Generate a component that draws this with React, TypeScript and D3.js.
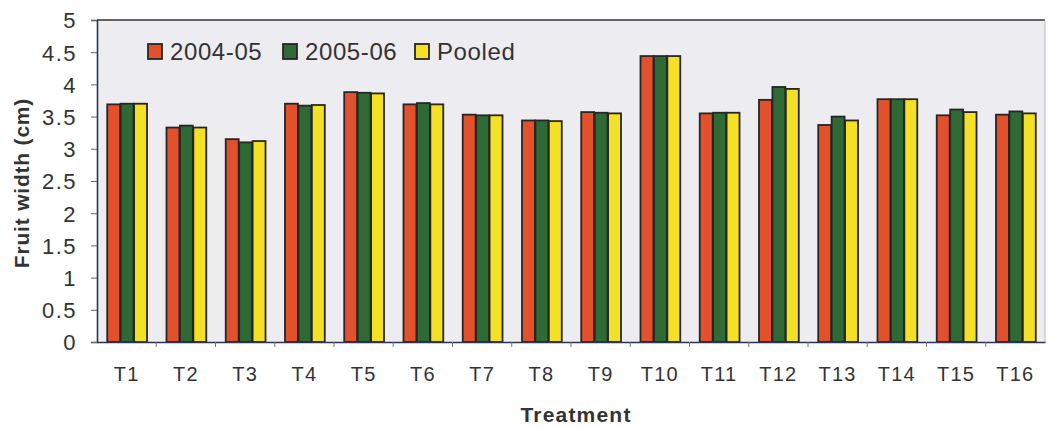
import React, { useEffect, useRef } from "react";
import * as d3 from "d3";

const categories = ["T1","T2","T3","T4","T5","T6","T7","T8","T9","T10","T11","T12","T13","T14","T15","T16"];
const seriesNames = ["2004-05", "2005-06", "Pooled"];
const s2004 = [3.69, 3.33, 3.15, 3.70, 3.88, 3.69, 3.53, 3.44, 3.57, 4.44, 3.55, 3.76, 3.37, 3.77, 3.52, 3.53];
const s2005 = [3.70, 3.36, 3.10, 3.67, 3.87, 3.71, 3.52, 3.44, 3.56, 4.44, 3.56, 3.96, 3.50, 3.77, 3.61, 3.58];
const sPooled = [3.70, 3.33, 3.12, 3.68, 3.86, 3.69, 3.52, 3.43, 3.55, 4.44, 3.56, 3.93, 3.44, 3.77, 3.57, 3.55];
const yTicks = [0, 0.5, 1, 1.5, 2, 2.5, 3, 3.5, 4, 4.5, 5];
const colors = ["#e2502c", "#2f6a34", "#f4e024"];

export default function App() {
  const ref = useRef<SVGSVGElement | null>(null);
  useEffect(() => {
    const svg = d3.select(ref.current);
    svg.selectAll("*").remove();
    const W = 1049, H = 428;
    const m = { left: 97, right: 4, top: 20, bottom: 86 };
    const x = d3.scaleBand().domain(categories).range([m.left, W - m.right]).paddingInner(0.32).paddingOuter(0.16);
    const x1 = d3.scaleBand().domain(seriesNames).range([0, x.bandwidth()]).padding(0);
    const y = d3.scaleLinear().domain([0, 5]).range([H - m.bottom, m.top]);
    const font = "'Liberation Sans', Arial, sans-serif";

    svg.append("rect").attr("x", 0).attr("y", 0).attr("width", W).attr("height", H).attr("fill", "#ffffff");
    svg.append("rect").attr("x", m.left).attr("y", y(5)).attr("width", W - m.right - m.left).attr("height", y(0) - y(5))
      .attr("fill", "#edecf1");

    const data = [s2004, s2005, sPooled];
    categories.forEach((c, i) => {
      const g = svg.append("g").attr("transform", `translate(${x(c)},0)`);
      seriesNames.forEach((s, j) => {
        const v = data[j][i];
        g.append("rect")
          .attr("x", (x1(s) as number) + 0.75)
          .attr("y", y(v))
          .attr("width", x1.bandwidth() - 0.5)
          .attr("height", y(0) - y(v))
          .attr("fill", colors[j])
          .attr("stroke", "#262626")
          .attr("stroke-width", 1.8);
      });
    });

    // frame
    svg.append("line").attr("x1", m.left).attr("x2", W - m.right).attr("y1", y(5)).attr("y2", y(5)).attr("stroke", "#333").attr("stroke-width", 1.6);
    svg.append("line").attr("x1", W - m.right).attr("x2", W - m.right).attr("y1", y(5)).attr("y2", y(0)).attr("stroke", "#bbb").attr("stroke-width", 1);

    // y axis
    const yAxis = d3.axisLeft(y).tickValues(yTicks).tickSize(6).tickFormat((d: any) => String(d));
    const ya = svg.append("g").attr("transform", `translate(${m.left},0)`).call(yAxis);
    ya.select(".domain").attr("stroke", "#2a3550").attr("stroke-width", 1.6);
    ya.selectAll(".tick line").attr("stroke", "#666");
    ya.selectAll(".tick text").attr("font-family", font).attr("font-size", 22).attr("letter-spacing", 1.5)
      .attr("fill", "#333").attr("x", -20).attr("dy", "0.36em");

    // x axis
    const xAxis = d3.axisBottom(x).tickSize(0).tickPadding(25);
    const xa = svg.append("g").attr("transform", `translate(0,${y(0)})`).call(xAxis);
    xa.select(".domain").attr("stroke", "#2a3550").attr("stroke-width", 1.6);
    xa.selectAll(".tick text").attr("font-family", font).attr("font-size", 20).attr("letter-spacing", 1.2).attr("fill", "#333");
    // boundary ticks
    const step = x.step();
    categories.forEach((c, i) => {
      if (i === 0) return;
      const bx = (x(c) as number) - step * 0.32 / 2;
      svg.append("line").attr("x1", bx).attr("x2", bx).attr("y1", y(0)).attr("y2", y(0) + 5).attr("stroke", "#777");
    });

    // axis titles
    svg.append("text").attr("x", 576).attr("y", 422).attr("text-anchor", "middle")
      .attr("font-family", font).attr("font-weight", "bold").attr("font-size", 21).attr("fill", "#333").attr("letter-spacing", 1.2).text("Treatment");
    svg.append("text").attr("transform", `translate(29,${183}) rotate(-90)`).attr("text-anchor", "middle")
      .attr("font-family", font).attr("font-weight", "bold").attr("font-size", 21).attr("letter-spacing", 0.8).attr("fill", "#333").text("Fruit width (cm)");

    // legend
    const legX = [148, 283, 415];
    seriesNames.forEach((s, j) => {
      svg.append("rect").attr("x", legX[j]).attr("y", 44).attr("width", 14).attr("height", 15)
        .attr("fill", colors[j]).attr("stroke", "#262626").attr("stroke-width", 1.8);
      svg.append("text").attr("x", legX[j] + 22).attr("y", 60).attr("font-family", font).attr("font-size", 24)
        .attr("letter-spacing", 0.6).attr("fill", "#333").text(s);
    });
  }, []);
  return (
    <svg ref={ref} width={1049} height={428} style={{ position: "absolute", left: 0, top: 0, display: "block" }} />
  );
}
